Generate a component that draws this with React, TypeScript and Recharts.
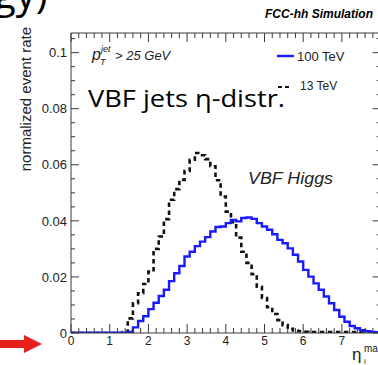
import { LineChart, Line, XAxis, YAxis } from 'recharts';

// eta range 0..8, 60 bins
const ETA_MAX = 8;
const BIN_WIDTH = ETA_MAX / 60;

// 100 TeV (blue, solid)
const rate100 = [
  0.0001, 0.0001, 0.0001, 0.0001, 0.0001, 0.0001, 0.0001, 0.0001, 0.0001, 0.0001, 0.0001,
  0.0004, 0.002, 0.0043, 0.006, 0.0085, 0.0108, 0.0132, 0.0154, 0.0185, 0.0213,
  0.0239, 0.0273, 0.029, 0.031, 0.0326, 0.0342, 0.0362, 0.0378, 0.038, 0.0392,
  0.0403, 0.0398, 0.041, 0.0412, 0.0407, 0.0392, 0.038, 0.0368, 0.0352, 0.0332,
  0.032, 0.0302, 0.0279, 0.0255, 0.0225, 0.0201, 0.0177, 0.0154, 0.013, 0.0106,
  0.0082, 0.0058, 0.004, 0.0025, 0.0017, 0.001, 0.0006, 0.0004, 0.0003,
];

// 13 TeV (black, dashed)
const rate13 = [
  0, 0, 0, 0, 0, 0, 0, 0, 0, 0,
  0.0003, 0.0052, 0.0106, 0.0142, 0.0175, 0.0219, 0.03, 0.0344, 0.0406, 0.0475,
  0.0513, 0.0546, 0.0578, 0.0618, 0.0642, 0.0634, 0.062, 0.0595, 0.0545, 0.0487,
  0.0433, 0.0395, 0.034, 0.029, 0.025, 0.021, 0.0165, 0.0125, 0.0092, 0.0068,
  0.0046, 0.0028, 0.0015, 0.0009, 0.0006, 0.0004,
  0.0003, 0.0003, 0.0003, 0.0003, 0.0003, 0.0003, 0.0003, 0.0003, 0.0003, 0.0003,
  0.0002, 0.0002, 0.0002, 0.0002,
];

const xMajor = [0, 1, 2, 3, 4, 5, 6, 7, 8];
const xLabels = ['0', '1', '2', '3', '4', '5', '6', '7', ''];
const yMajor = [0, 0.02, 0.04, 0.06, 0.08, 0.1];
const yLabels = ['0', '0.02', '0.04', '0.06', '0.08', '0.1'];

const xTicks = Array.from({ length: 41 }, (_, i) => +(i * 0.2).toFixed(3));
const yTicks = Array.from({ length: 22 }, (_, i) => +(i * 0.005).toFixed(4));

// step histogram: one point per bin left edge + closing point
const data = rate100.map((v, i) => ({ x: i * BIN_WIDTH, blue: v, black: rate13[i] }));
data.push({ x: ETA_MAX, blue: rate100[59], black: rate13[59] });

const AXIS = '#3a3a3a';
const FONT = '"Liberation Sans", Arial, Helvetica, sans-serif';

const majorIndex = (v: number, list: number[]) => list.findIndex((m) => Math.abs(m - v) < 1e-6);

const BottomTick = (props: any) => {
  const { x, y, payload } = props;
  const idx = majorIndex(payload.value, xMajor);
  return (
    <g>
      <line x1={x} x2={x} y1={y} y2={y - (idx >= 0 ? 9 : 5)} stroke={AXIS} strokeWidth={1} />
      {idx >= 0 && (
        <text x={x} y={y + 12} textAnchor="middle" fontSize={12} fontFamily={FONT} fill="#222">
          {xLabels[idx]}
        </text>
      )}
    </g>
  );
};

const TopTick = (props: any) => {
  const { x, y, payload } = props;
  const idx = majorIndex(payload.value, xMajor);
  return <line x1={x} x2={x} y1={y} y2={y + (idx >= 0 ? 9 : 5)} stroke={AXIS} strokeWidth={1} />;
};

const LeftTick = (props: any) => {
  const { x, y, payload } = props;
  const idx = majorIndex(payload.value, yMajor);
  return (
    <g>
      <line x1={x} x2={x + (idx >= 0 ? 8 : 4)} y1={y} y2={y} stroke={AXIS} strokeWidth={1} />
      {idx >= 0 && (
        <text x={x - 4} y={y} dy="0.36em" textAnchor="end" fontSize={13} fontFamily={FONT} fill="#222">
          {yLabels[idx]}
        </text>
      )}
    </g>
  );
};

const RightTick = (props: any) => {
  const { x, y, payload } = props;
  const idx = majorIndex(payload.value, yMajor);
  return <line x1={x} x2={x - (idx >= 0 ? 8 : 4)} y1={y} y2={y} stroke={AXIS} strokeWidth={1} />;
};

export default function App() {
  return (
    <div style={{ position: 'fixed', left: 0, top: 0, width: 378, height: 365, overflow: 'hidden', background: '#fff' }}>
      <LineChart width={400} height={365} data={data} margin={{ top: 0, right: 0, bottom: 0, left: 0 }}>
        <XAxis
          xAxisId="bottom"
          dataKey="x"
          type="number"
          domain={[0, ETA_MAX]}
          ticks={xTicks}
          interval={0}
          height={32}
          tickSize={0}
          tickMargin={0}
          tick={<BottomTick />}
          axisLine={{ stroke: AXIS }}
          tickLine={false}
        />
        <XAxis
          xAxisId="top"
          orientation="top"
          dataKey="x"
          type="number"
          domain={[0, ETA_MAX]}
          ticks={xTicks}
          interval={0}
          height={33}
          tickSize={0}
          tickMargin={0}
          tick={<TopTick />}
          axisLine={{ stroke: AXIS }}
          tickLine={false}
        />
        <YAxis
          yAxisId="left"
          type="number"
          domain={[0, 0.107]}
          allowDataOverflow
          ticks={yTicks}
          interval={0}
          width={71}
          tickSize={0}
          tickMargin={0}
          tick={<LeftTick />}
          axisLine={{ stroke: AXIS }}
          tickLine={false}
        />
        <YAxis
          yAxisId="right"
          orientation="right"
          type="number"
          domain={[0, 0.107]}
          allowDataOverflow
          ticks={yTicks}
          interval={0}
          width={19.4}
          tickSize={0}
          tickMargin={0}
          tick={<RightTick />}
          axisLine={{ stroke: AXIS }}
          tickLine={false}
        />
        <Line
          xAxisId="bottom"
          yAxisId="left"
          type="stepAfter"
          dataKey="black"
          stroke="#111"
          strokeWidth={2.6}
          strokeDasharray="4.5 3.5"
          dot={false}
          isAnimationActive={false}
        />
        <Line
          xAxisId="bottom"
          yAxisId="left"
          type="stepAfter"
          dataKey="blue"
          stroke="#1a1aff"
          strokeWidth={2.4}
          dot={false}
          isAnimationActive={false}
        />
      </LineChart>

      <svg width={378} height={365} style={{ position: 'absolute', left: 0, top: 0, pointerEvents: 'none' }}>
        {/* slide title fragment cut at top */}
        <text x={-6} y={8} fontSize={40} fontFamily='"Open Sans", sans-serif' fill="#000">gy)</text>

        <text x={373} y={18} textAnchor="end" fontSize={12} fontWeight="bold" fontStyle="italic" fontFamily={FONT} fill="#000">
          FCC-hh Simulation
        </text>

        <text x={31} y={27} transform="rotate(-90 31 27)" textAnchor="end" fontSize={15} fontFamily={FONT} fill="#222">
          normalized event rate
        </text>

        <g fontFamily={FONT} fontStyle="italic" fill="#222">
          <text x={92} y={60} fontSize={16}>p</text>
          <text x={101} y={52} fontSize={9}>jet</text>
          <text x={100} y={65} fontSize={9}>T</text>
          <text x={115} y={60} fontSize={13}>&gt; 25 GeV</text>
        </g>

        <line x1={277} x2={294} y1={56} y2={56} stroke="#1a1aff" strokeWidth={2.4} />
        <text x={297} y={61} fontSize={13} fontFamily={FONT} fill="#222">100 TeV</text>
        <line x1={278} x2={290} y1={87} y2={87} stroke="#111" strokeWidth={1.8} strokeDasharray="4 3" />
        <text x={300} y={90} fontSize={12} fontFamily={FONT} fill="#222">13 TeV</text>

        <text x={88} y={107} fontSize={23} textLength={197} lengthAdjust="spacingAndGlyphs" fontFamily='"Open Sans", "Noto Sans", sans-serif' fill="#000">
          VBF jets η-distr.
        </text>

        <text x={248} y={184} fontSize={16} textLength={85} lengthAdjust="spacingAndGlyphs" fontStyle="italic" fontFamily={FONT} fill="#222">
          VBF Higgs
        </text>

        <text x={352} y={360} fontSize={17} fontFamily={FONT} fill="#222">η</text>
        <text x={364} y={352} fontSize={10} fontFamily={FONT} fill="#222">max</text>
        <text x={364} y={364} fontSize={8} fontFamily={FONT} fill="#222">i</text>

        {/* red arrow */}
        <polygon points="0,340 24,340 24,335 42,344 24,353 24,348 0,348" fill="#e8201c" />
      </svg>
    </div>
  );
}
